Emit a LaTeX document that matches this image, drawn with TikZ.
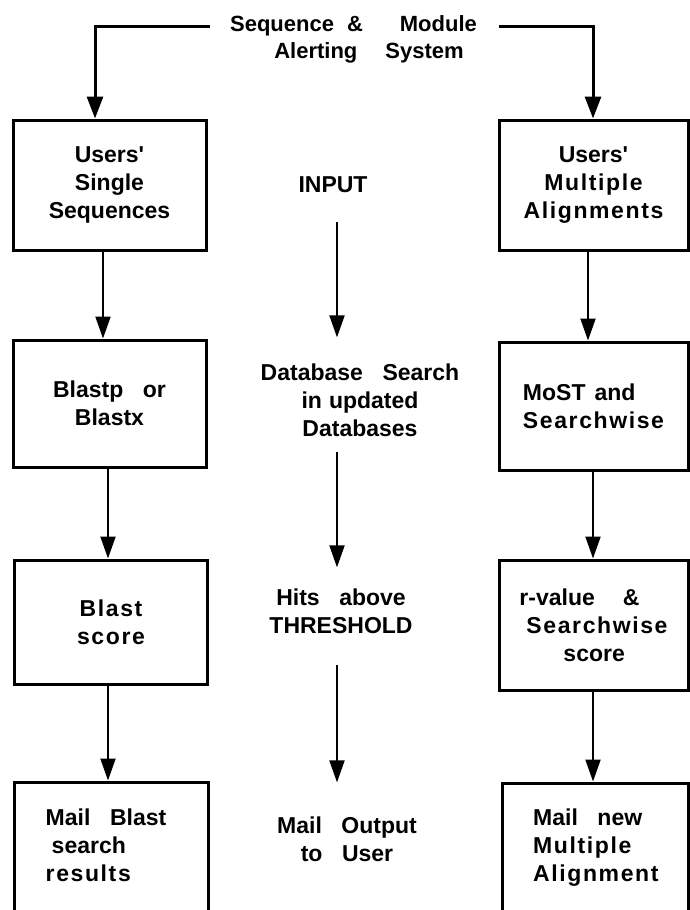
\documentclass[tikz,border=0pt]{standalone}
\usepackage{fontspec}
\setmainfont{Liberation Sans}
\newfontfamily\spaced[LetterSpace=7]{Liberation Sans}
\usetikzlibrary{arrows.meta}

% bold sans label font with wide word gaps
\newcommand\dfont{\fontsize{23}{28}\selectfont\bfseries\spaceskip=0.85em plus 0.1em\relax}
\newcommand\tfont{\fontsize{22}{27}\selectfont\bfseries}
\newcommand\apos{\textquotesingle}

\tikzset{
  box/.style={draw, line width=3pt, inner sep=0pt, align=center, font=\dfont},
  lbl/.style={inner sep=0pt, align=center, font=\dfont},
  arr/.style={line width=2pt, -{Triangle[length=22pt,width=15pt]}},
  feed/.style={line width=3pt, -{Triangle[length=22pt,width=16pt]}},
}

\begin{document}
\begin{tikzpicture}[x=1pt, y=-1pt]
  \useasboundingbox (0,0) rectangle (690,910);
  \clip (0,0) rectangle (690,910);
  \fill[white] (0,0) rectangle (690,910);

  % heading
  \node[lbl, font=\tfont] (t1) at (353.5,26) {Sequence\hspace{13pt}\&\hspace{37pt}Module};
  \node[lbl, font=\tfont] (t2) at (369,53) {Alerting\hspace{28pt}System};

  % left column: single sequences
  \node[box, minimum width=193pt, minimum height=130pt] (L1) at (109.5,185)
    {Users\apos\\Single\\Sequences};
  \node[box, minimum width=193pt, minimum height=127pt] (L2) at (109.5,403.5)
    {Blastp or\\Blastx};
  \node[box, minimum width=193pt, minimum height=124pt, font=\dfont\spaced] (L3) at (111,622)
    {Blast\\score};
  \node[box, minimum width=194pt, minimum height=170pt] (L4) at (111,867) {};
  \node[lbl, align=left] (L4t) at (106,845)
    {Mail Blast\\\hspace*{6pt}search\\{\spaced results}};

  % right column: multiple alignments
  \node[box, minimum width=189pt, minimum height=130pt] (R1) at (593.5,185)
    {Users\apos\\{\spaced Multiple}\\{\spaced Alignments}};
  \node[box, minimum width=189pt, minimum height=128pt, align=left] (R2) at (593.5,406)
    {MoST\hspace{9pt}and\\{\spaced Searchwise}};
  \node[box, minimum width=189pt, minimum height=130pt, align=left] (R3) at (593.5,625)
    {r-value\hspace{28pt}\&\\\hspace*{7pt}{\spaced Searchwise}\\\hspace*{44pt}score};
  \node[box, minimum width=186pt, minimum height=170pt] (R4) at (595,868) {};
  \node[lbl, align=left, anchor=west] (R4t) at (533,848)
    {Mail new\\{\spaced Multiple}\\{\spaced Alignment}};

  % middle column: processing steps
  \node[lbl] (input) at (333,185) {INPUT};
  \node[lbl] (db) at (360,400) {Database Search\\in\hspace{7pt}updated\\Databases};
  \node[lbl] (hits) at (341,611) {Hits above\\THRESHOLD};
  \node[lbl] (mail) at (347,839) {Mail Output\\to User};

  % feeds from the alerting system
  \draw[feed] ([xshift=-20pt]t1.west) -| (L1.north -| 95,0);
  \draw[feed] ([xshift=22pt]t1.east) -| (R1.north -| 593,0);

  % left chain
  \draw[arr] (L1.south -| 103,0) -- (L2.north -| 103,0);
  \draw[arr] (L2.south -| 108,0) -- (L3.north -| 108,0);
  \draw[arr] (L3.south -| 108,0) -- (L4.north -| 108,0);

  % right chain
  \draw[arr] (R1.south -| 588,0) -- (R2.north -| 588,0);
  \draw[arr] (R2.south -| 593,0) -- (R3.north -| 593,0);
  \draw[arr] (R3.south -| 593,0) -- (R4.north -| 593,0);

  % middle chain
  \draw[arr, shorten <=29pt, shorten >=26pt] (input.south -| 337,0) -- (db.north -| 337,0);
  \draw[arr, shorten <=15pt, shorten >=21pt] (db.south -| 337,0) -- (hits.north -| 337,0);
  \draw[arr, shorten <=31pt, shorten >=34pt] (hits.south -| 337,0) -- (mail.north -| 337,0);
\end{tikzpicture}
\end{document}
